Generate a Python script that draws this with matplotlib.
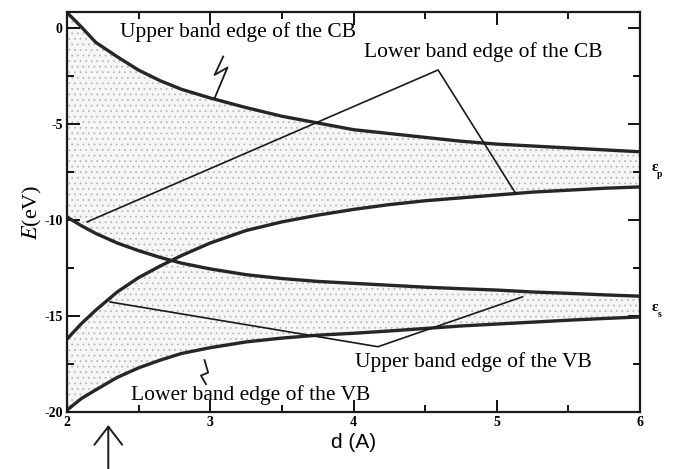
import numpy as np
import matplotlib
matplotlib.use('Agg')
from matplotlib import pyplot as plt

plt.rcParams['font.family'] = ['Liberation Serif', 'DejaVu Serif']
plt.rcParams['mathtext.fontset'] = 'stix'
plt.rcParams['axes.unicode_minus'] = False
plt.rcParams['hatch.linewidth'] = 0.6

d = [2.0, 2.1, 2.2, 2.35, 2.5, 2.65, 2.8, 3.0, 3.25, 3.5, 3.75, 4.0, 4.25,
     4.5, 4.75, 5.0, 5.25, 5.5, 5.75, 6.0]
cb_top = [0.8, 0.05, -0.75, -1.5, -2.2, -2.75, -3.2, -3.65, -4.15, -4.6,
          -4.95, -5.3, -5.5, -5.7, -5.9, -6.05, -6.15, -6.25, -6.35, -6.45]
falling = [-9.85, -10.3, -10.7, -11.2, -11.6, -11.95, -12.25, -12.55, -12.85,
           -13.05, -13.2, -13.3, -13.4, -13.5, -13.58, -13.65, -13.75, -13.82,
           -13.9, -13.97]
rising = [-16.2, -15.4, -14.7, -13.75, -13.0, -12.4, -11.85, -11.2, -10.55,
          -10.1, -9.75, -9.45, -9.2, -9.0, -8.85, -8.7, -8.55, -8.45, -8.35,
          -8.28]
vb_bottom = [-19.9, -19.3, -18.85, -18.2, -17.7, -17.3, -16.95, -16.65, -16.35,
             -16.15, -16.0, -15.9, -15.78, -15.65, -15.52, -15.42, -15.32,
             -15.22, -15.13, -15.05]

# pointer lines (d, E) from the labels to the edges
cb_low_ptr_d = [2.14, 4.59, 5.13]
cb_low_ptr_e = [-10.1, -2.19, -8.6]
vb_up_ptr_d = [2.30, 4.17, 5.18]
vb_up_ptr_e = [-14.27, -16.6, -14.0]

x_ticks = [2, 3, 4, 5, 6]
y_ticks = [0, -5, -10, -15, -20]

fig = plt.figure(figsize=(6.75, 4.69), dpi=100)
ax = fig.add_axes([0.0993, 0.1215, 0.849, 0.853])

lower_cb = np.maximum(falling, rising)
upper_vb = np.minimum(falling, rising)

# stippled bands
ax.fill_between(d, cb_top, lower_cb, facecolor='#f6f6f6', edgecolor='#b8b8b8',
                hatch='...', linewidth=0)
ax.fill_between(d, upper_vb, vb_bottom, facecolor='#f6f6f6', edgecolor='#b8b8b8',
                hatch='...', linewidth=0)

for edge in (cb_top, falling, rising, vb_bottom):
    ax.plot(d, edge, color='#262626', lw=2.4, solid_capstyle='round',
            solid_joinstyle='round')

ax.plot(cb_low_ptr_d, cb_low_ptr_e, color='#1a1a1a', lw=1.2)
ax.plot(vb_up_ptr_d, vb_up_ptr_e, color='#1a1a1a', lw=1.2)

# zigzag pointers
ax.plot([3.09, 3.03, 3.12, 3.03], [-1.49, -2.45, -2.06, -3.66], color='#1a1a1a', lw=1.3)
ax.plot([2.96, 2.985, 2.935, 2.97], [-17.3, -17.95, -18.1, -18.55], color='#1a1a1a', lw=1.3)

ax.text(2.37, -0.47, 'Upper band edge of the CB', fontsize=15.5, va='baseline')
ax.text(4.07, -1.51, 'Lower band edge of the CB', fontsize=15.5, va='baseline')
ax.text(4.01, -17.66, 'Upper band edge of the VB', fontsize=15.5, va='baseline')
ax.text(2.45, -19.4, 'Lower band edge of the VB', fontsize=15.5, va='baseline')

# level markers at the right edge
for lvl, sub in ((-7.29, 'p'), (-14.58, 's')):
    ax.text(6.08, lvl, 'ε', fontsize=11, fontweight='bold', ha='left', va='center',
            clip_on=False)
    ax.text(6.12, lvl - 0.35, sub, fontsize=7, fontweight='bold', ha='left',
            va='center', clip_on=False)

# arrow under the d axis
ax.annotate('', xy=(2.288, -20.68), xytext=(2.288, -23.1), annotation_clip=False,
            arrowprops=dict(arrowstyle='->,head_length=1.3,head_width=1.0',
                            mutation_scale=10, lw=1.4, color='#1a1a1a',
                            shrinkA=0, shrinkB=0))

ax.set_xlim(2, 6)
ax.set_ylim(-20, 0.83)
ax.set_xticks(x_ticks)
ax.set_yticks(y_ticks)
ax.set_xticks(np.arange(2.5, 6, 1.0), minor=True)
ax.set_yticks(np.arange(-17.5, 0, 5.0), minor=True)
ax.tick_params(which='both', direction='in', top=True, right=True, width=1.3)
ax.tick_params(which='major', length=9, labelsize=10, pad=3)
ax.tick_params(which='minor', length=5)
for lab in ax.get_xticklabels() + ax.get_yticklabels():
    lab.set_fontweight('bold')
for s in ax.spines.values():
    s.set_linewidth(1.6)
    s.set_color('#1a1a1a')

ax.set_ylabel(r'$\mathit{E}$(eV)', fontsize=16, labelpad=0)
ax.set_xlabel('d (A)', fontsize=15, family=['Liberation Sans'], labelpad=3)

plt.savefig('out.png', dpi=100)
